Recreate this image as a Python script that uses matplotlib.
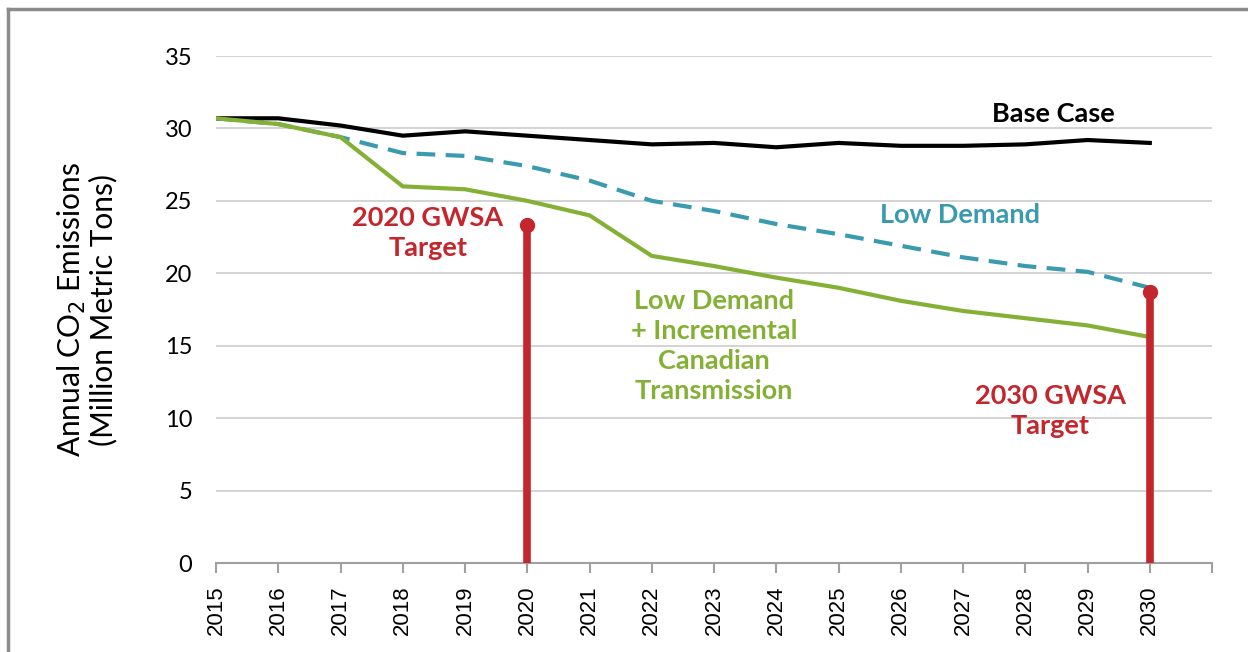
import matplotlib
matplotlib.use("Agg")
import matplotlib.pyplot as plt
from matplotlib.lines import Line2D

years = list(range(2015, 2031))
base_case = [30.7, 30.7, 30.2, 29.5, 29.8, 29.5, 29.2, 28.9, 29.0, 28.7, 29.0, 28.8, 28.8, 28.9, 29.2, 29.0]
low_demand = [30.7, 30.3, 29.4, 28.3, 28.1, 27.4, 26.4, 25.0, 24.3, 23.4, 22.7, 21.9, 21.1, 20.5, 20.1, 19.0]
low_demand_canada = [30.7, 30.3, 29.4, 26.0, 25.8, 25.0, 24.0, 21.2, 20.5, 19.7, 19.0, 18.1, 17.4, 16.9, 16.4, 15.6]
target_years = [2020, 2030]
target_values = [23.3, 18.7]

black = "#000000"
teal = "#3A9AB0"
green = "#84B135"
red = "#C4262E"

plt.rcParams["font.family"] = ["Lato", "DejaVu Sans"]

fig = plt.figure(figsize=(12.48, 6.52), dpi=100)
ax = fig.add_axes([0.1731, 0.1365, 0.7981, 0.7776])

# outer frame of the picture
fig.add_artist(Line2D([0.0064, 0.0064], [0.0, 0.986], transform=fig.transFigure, color="#8c8c8c", lw=2.5))
fig.add_artist(Line2D([0.0064, 1.0], [0.986, 0.986], transform=fig.transFigure, color="#8c8c8c", lw=2.5))

for v in range(5, 40, 5):
    ax.axhline(v, color="#d0d0d0", lw=1.3, zorder=0)

ax.plot(years, base_case, color=black, lw=3, zorder=3, solid_joinstyle="round")
ax.plot(years, low_demand, color=teal, lw=3, dashes=(4.5, 2.5), zorder=2)
ax.plot(years, low_demand_canada, color=green, lw=3, zorder=3, solid_joinstyle="round")

for ty, tv in zip(target_years, target_values):
    ax.plot([ty, ty], [0, tv], color=red, lw=5.5, zorder=4, solid_capstyle="butt")
    ax.plot(ty, tv, "o", color=red, ms=10, zorder=5)

ax.set_xlim(2015, 2031)
ax.set_ylim(0, 35)
ax.set_xticks(range(2015, 2032))
ax.set_xticklabels([str(y) for y in years] + [""], rotation=90,
                   fontsize=16, family="Liberation Sans")
ax.set_yticks(range(0, 40, 5))
ax.set_yticklabels([str(v) for v in range(0, 40, 5)], fontsize=17)

for s in ["top", "right", "left"]:
    ax.spines[s].set_visible(False)
ax.spines["bottom"].set_color("#a0a0a0")
ax.spines["bottom"].set_linewidth(1.5)
ax.tick_params(axis="x", direction="out", length=7, width=1.5, color="#a0a0a0", pad=9)
ax.tick_params(axis="y", length=0, pad=17)

ax.set_ylabel("Annual CO$_2$ Emissions\n(Million Metric Tons)", fontsize=21.5, labelpad=34, linespacing=1.05)

ax.text(2028.45, 31.0, "Base Case", color=black, fontsize=19.5, fontweight="bold", ha="center", va="center")
ax.text(2026.95, 24.0, "Low Demand", color=teal, fontsize=19.5, fontweight="bold", ha="center", va="center")
ax.text(2018.4, 22.8, "2020 GWSA\nTarget", color=red, fontsize=19.5, fontweight="bold", ha="center", va="center", linespacing=1.32)
ax.text(2023.0, 15.0, "Low Demand\n+ Incremental\nCanadian\nTransmission", color=green, fontsize=19.5, fontweight="bold",
        ha="center", va="center", linespacing=1.3)
ax.text(2028.4, 10.5, "2030 GWSA\nTarget", color=red, fontsize=19.5, fontweight="bold", ha="center", va="center", linespacing=1.32)

fig.savefig("out.png", dpi=100)
